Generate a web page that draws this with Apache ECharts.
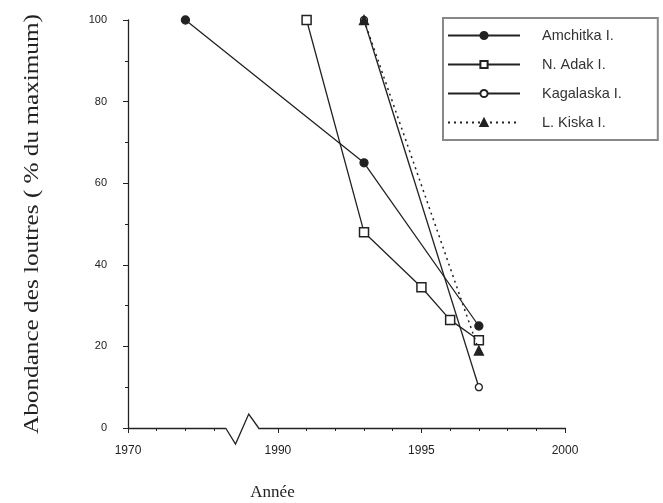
<!DOCTYPE html>
<html><head><meta charset="utf-8">
<script src="https://cdn.jsdelivr.net/npm/echarts@6/dist/echarts.min.js"></script>
<style>html,body{margin:0;padding:0;background:#fff}#c{width:663px;height:503px}</style>
</head><body><div id="c"></div>
<script>
const xTickLabels = [1970, 1990, 1995, 2000];
const xMinorTicks = [1971, 1972, 1973, 1991, 1992, 1993, 1994, 1996, 1997, 1998, 1999];
const yTickLabels = [0, 20, 40, 60, 80, 100];
const seriesNames = ['Amchitka I.', 'N. Adak I.', 'Kagalaska I.', 'L. Kiska I.'];
const amchitkaYears = [1972, 1993, 1997];
const amchitkaValues = [100, 65, 25];
const adakYears = [1991, 1993, 1995, 1996, 1997];
const adakValues = [100, 48, 34.5, 26.5, 21.5];
const kagalaskaYears = [1993, 1997];
const kagalaskaValues = [100, 10];
const kiskaYears = [1993, 1997];
const kiskaValues = [100, 19];
const breakStart = 1973.4, breakEnd = 1989.33;
const yTitle = 'Abondance des loutres ( % du maximum)';
const xTitle = 'Année';

const pair = (xs, ys) => xs.map((x, i) => [x, ys[i]]);
const ink = '#222';
const chart = echarts.init(document.getElementById('c'));
const baseSeries = {type: 'line', xAxisIndex: 0, lineStyle: {color: ink, width: 1.3}, itemStyle: {color: ink, borderColor: ink, borderWidth: 1.3}, animation: false};
const axisBreaks = [{start: breakStart, end: breakEnd, gap: 1.15}];
const noArea = {show: true, itemStyle: {color: 'rgba(255,255,255,0)', borderColor: 'rgba(255,255,255,0)', opacity: 0}};
chart.setOption({
  animation: false,
  backgroundColor: '#fff',
  grid: {left: 128, right: 98, top: 20, bottom: 75, containLabel: false, outerBoundsMode: 'none'},
  legend: {
    orient: 'vertical', left: 443, top: 18, itemWidth: 72, itemHeight: 9, itemGap: 14,
    borderColor: '#888', borderWidth: 2, padding: [10, 36, 10, 4],
    textStyle: {fontFamily: 'Liberation Sans', fontSize: 14.5, color: '#333', padding: [0, 0, 0, 17]},
    data: seriesNames
  },
  xAxis: [{
    type: 'value', min: 1970, max: 2000, position: 'bottom',
    breaks: axisBreaks, breakArea: noArea,
    name: xTitle, nameLocation: 'middle', nameGap: 56,
    nameTextStyle: {fontFamily: 'Liberation Serif', fontSize: 17, color: ink, padding: [0, 148, 0, 0]},
    axisLine: {lineStyle: {color: ink, width: 1.3}},
    axisTick: {length: 5, lineStyle: {color: ink}, customValues: xTickLabels},
    minorTick: {show: false},
    splitLine: {show: false},
    axisLabel: {fontFamily: 'Liberation Sans', fontSize: 12, color: ink, margin: 17, customValues: xTickLabels,
      formatter: v => String(v)}
  }, {
    type: 'value', min: 1970, max: 2000, position: 'bottom', offset: 0,
    breaks: axisBreaks, breakArea: noArea,
    axisLine: {show: false},
    axisTick: {show: true, length: 3, lineStyle: {color: ink}, customValues: xMinorTicks},
    axisLabel: {show: false},
    splitLine: {show: false}
  }],
  yAxis: {
    type: 'value', min: 0, max: 100, interval: 20,
    axisLine: {show: true, lineStyle: {color: ink, width: 1.3}},
    axisTick: {show: true, length: 5, lineStyle: {color: ink}},
    minorTick: {show: true, splitNumber: 2, length: 3, lineStyle: {color: ink}},
    splitLine: {show: false},
    axisLabel: {fontFamily: 'Liberation Sans', fontSize: 11, color: ink, margin: 21,
      formatter: v => yTickLabels.includes(v) ? String(v) : ''}
  },
  series: [
    Object.assign({}, baseSeries, {name: seriesNames[0], data: pair(amchitkaYears, amchitkaValues), symbol: 'circle', symbolSize: 8, z: 2}),
    Object.assign({}, baseSeries, {name: seriesNames[1], data: pair(adakYears, adakValues), symbol: 'rect', symbolSize: 9, itemStyle: {color: '#fff', borderColor: ink, borderWidth: 1.5}, z: 3}),
    Object.assign({}, baseSeries, {name: seriesNames[2], data: pair(kagalaskaYears, kagalaskaValues), symbol: 'circle', symbolSize: 7, itemStyle: {color: '#fff', borderColor: ink, borderWidth: 1.3}, z: 2}),
    Object.assign({}, baseSeries, {name: seriesNames[3], data: pair(kiskaYears, kiskaValues), symbol: 'triangle', symbolSize: 9, lineStyle: {color: ink, width: 1.5, type: [2, 4]}, z: 4})
  ]
});
// axis break glyph (V shape) at the break edges, and stretched y-axis title
const y0 = chart.convertToPixel({yAxisIndex: 0}, 0);
const yTop = chart.convertToPixel({yAxisIndex: 0}, 100);
const xs = chart.convertToPixel({xAxisIndex: 0}, breakStart);
const xe = chart.convertToPixel({xAxisIndex: 0}, breakEnd);
const w = xe - xs;
chart.setOption({graphic: [
  {type: 'rect', shape: {x: xs + 0.5, y: y0 - 2, width: w - 1, height: 4}, style: {fill: '#fff'}, z: 100},
  {type: 'polyline', shape: {points: [[xs, y0], [xs + w * 0.3, y0 + 16], [xs + w * 0.7, y0 - 14], [xe, y0]]}, style: {stroke: ink, lineWidth: 1.3, fill: null}, z: 101},
  {type: 'text', x: 33, y: (y0 + yTop) / 2, rotation: Math.PI / 2, scaleX: 1.26,
   style: {text: yTitle, fontFamily: 'Liberation Serif', fontSize: 20, fill: ink, align: 'center', verticalAlign: 'middle'}, z: 100}
]});
</script></body></html>
